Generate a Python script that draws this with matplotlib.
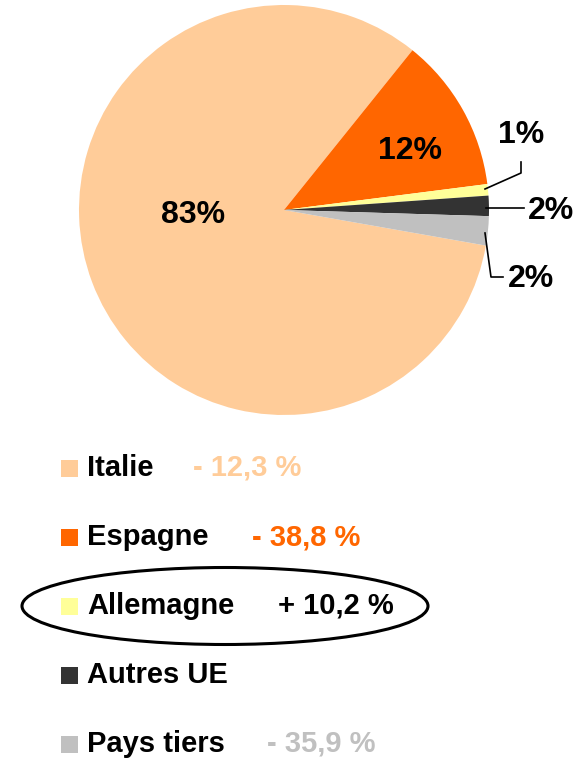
import matplotlib
matplotlib.use("Agg")
import matplotlib.pyplot as plt
from matplotlib.patches import Rectangle, Ellipse

categories = ["Italie", "Espagne", "Allemagne", "Autres UE", "Pays tiers"]
shares = [83.0, 12.2, 0.9, 1.6, 2.3]
changes = ["- 12,3 %", "- 38,8 %", "+ 10,2 %", "", "- 35,9 %"]
colors = ["#FFCC99", "#FF6600", "#FFFF99", "#333333", "#C0C0C0"]
change_colors = ["#FFCC99", "#FF6600", "#000000", "#000000", "#C0C0C0"]

W, H = 587, 764
plt.rcParams['font.family'] = ['Liberation Sans', 'DejaVu Sans']
fig = plt.figure(figsize=(W / 100, H / 100), dpi=100)

cx, cy, R = 284, 210, 205
ax = fig.add_axes([(cx - R) / W, (H - cy - R) / H, 2 * R / W, 2 * R / H])
ax.pie(shares, colors=colors, startangle=-10, counterclock=False, radius=1,
       wedgeprops=dict(linewidth=0))
ax.set_xlim(-1, 1)
ax.set_ylim(-1, 1)
ax.set_aspect('equal')
ax.axis('off')

def d(px, py):
    return ((px - cx) / R, (cy - py) / R)

labels = [f"{round(v)}%" for v in shares]
label_px = [(193, 215), (410, 151), (521, 135), (551, 211), (531, 279)]
for lab, (px, py) in zip(labels, label_px):
    x, y = d(px, py)
    ax.text(x, y, lab, ha='center', va='center', fontsize=23, fontweight='bold',
            clip_on=False)

leaders = [
    [(485, 189), (521, 173), (521, 162)],
    [(486, 208), (524, 208)],
    [(485, 233), (491, 277), (503, 277)],
]
for pts in leaders:
    xs, ys = zip(*[d(*p) for p in pts])
    ax.plot(xs, ys, color='black', lw=1.2, clip_on=False)

# legend
y0, dy = 468, 69
for i, (cat, col) in enumerate(zip(categories, colors)):
    yc = y0 + i * dy
    fig.add_artist(Rectangle((61 / W, 1 - (yc + 9) / H), 17 / W, 17 / H,
                             transform=fig.transFigure, facecolor=col, edgecolor='none'))
    fig.text(87 / W, 1 - yc / H, cat, ha='left', va='center', fontsize=21,
             fontweight='bold', color='black')
chg_x = [193, 252, 278, 0, 267]
for i, (chg, ccol) in enumerate(zip(changes, change_colors)):
    if chg:
        yc = y0 + i * dy
        fig.text(chg_x[i] / W, 1 - yc / H, chg, ha='left', va='center', fontsize=21,
                 fontweight='bold', color=ccol)

fig.add_artist(Ellipse((225 / W, 1 - 606 / H), 406 / W, 77 / H, transform=fig.transFigure,
                       facecolor='none', edgecolor='black', lw=2.2))

fig.savefig("out.png", dpi=100)
